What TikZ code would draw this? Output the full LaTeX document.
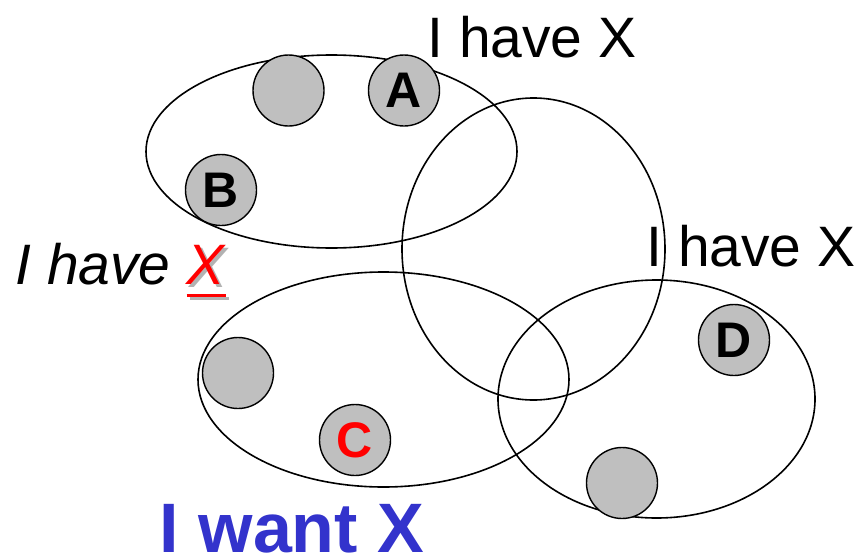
\documentclass[tikz,border=0pt]{standalone}
\usepackage{fontspec}
\setmainfont{Liberation Sans}
\definecolor{wantblue}{RGB}{51,51,204}
\newcommand{\markX}{\rlap{\rule[-13pt]{39pt}{3.5pt}}X}
\tikzset{
  peer/.style={circle, draw, line width=1.4pt, fill=black!25, minimum size=71pt, inner sep=0pt,
    font=\fontsize{50}{52}\selectfont\bfseries},
  say/.style={inner sep=0pt, font=\fontsize{57}{60}\selectfont}
}
\begin{document}
\begin{tikzpicture}[x=1pt,y=-1pt]
\useasboundingbox (0,0) rectangle (864,554);
 \begin{scope}[line width=1.6pt]
  \draw (331.5,151.5) ellipse [x radius=185.5pt, y radius=96.5pt];
  \draw (533.5,249) ellipse [x radius=131.5pt, y radius=151pt];
  \draw (383.5,379.5) ellipse [x radius=185.5pt, y radius=107.5pt];
  \draw (656.5,399) ellipse [x radius=158.5pt, y radius=119pt];
 \end{scope}
 \begin{scope}[every node/.style={peer}]
  \node (p1) at (288.5,90.5) {};
  \node (a) at (404,90.5) {A};
  \node (b) at (221,190) {B};
  \node (p2) at (238,373) {};
  \node (c) at (355,440) {\textcolor{red}{C}};
  \node (d) at (734,340) {D};
  \node (p3) at (622,483) {};
 \end{scope}
 \begin{scope}[every node/.style={say, anchor=base}]
  \node (hastop) at (532,57) {I have X};
  \node (hasright) at (751,266) {I have X};
  \node[gray!60, xshift=3pt, yshift=-3pt] (shadow) at (120,284) {\itshape\phantom{I have }\markX};
  \node (hasleft) at (120,284) {\itshape I have \textcolor{red}{\markX}};
  \node[wantblue, font=\fontsize{70}{72}\selectfont\bfseries] (want) at (292,552) {I want X};
 \end{scope}
\end{tikzpicture}
\end{document}
